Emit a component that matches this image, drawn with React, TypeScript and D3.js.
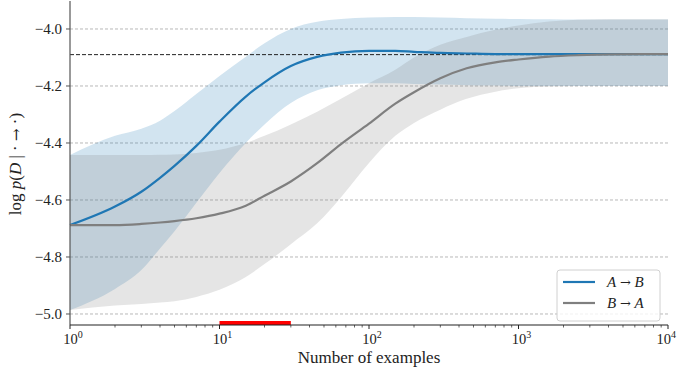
import * as d3 from "d3";

// sample sizes (log axis)
const xs = [1, 2, 3, 4, 5, 7, 10, 15, 20, 30, 45, 65, 100, 150, 200, 300, 450, 700, 1000, 1600, 2500, 4000, 10000];

// A -> B
const abMean = [-4.688, -4.623, -4.571, -4.522, -4.48, -4.41, -4.325, -4.237, -4.187, -4.13, -4.098, -4.083, -4.077, -4.077, -4.08, -4.084, -4.086, -4.088, -4.088, -4.088, -4.088, -4.088, -4.088];
const abUpper = [-4.442, -4.375, -4.35, -4.322, -4.288, -4.228, -4.165, -4.097, -4.05, -4.0, -3.975, -3.965, -3.96, -3.958, -3.958, -3.96, -3.962, -3.964, -3.965, -3.966, -3.967, -3.967, -3.967];
const abLower = [-4.986, -4.912, -4.846, -4.77, -4.71, -4.61, -4.505, -4.4, -4.335, -4.26, -4.215, -4.197, -4.19, -4.19, -4.193, -4.195, -4.197, -4.198, -4.2, -4.2, -4.2, -4.2, -4.2];

// B -> A
const baMean = [-4.688, -4.688, -4.684, -4.679, -4.674, -4.664, -4.648, -4.62, -4.585, -4.535, -4.471, -4.404, -4.332, -4.262, -4.222, -4.173, -4.138, -4.117, -4.107, -4.097, -4.092, -4.089, -4.088];
const baUpper = [-4.442, -4.442, -4.442, -4.441, -4.44, -4.435, -4.424, -4.4, -4.375, -4.335, -4.29, -4.245, -4.19, -4.143, -4.1, -4.055, -4.028, -4.003, -3.988, -3.974, -3.968, -3.966, -3.966];
const baLower = [-4.986, -4.97, -4.965, -4.96, -4.955, -4.94, -4.915, -4.87, -4.825, -4.755, -4.682, -4.59, -4.47, -4.375, -4.33, -4.283, -4.245, -4.22, -4.208, -4.202, -4.2, -4.2, -4.2];

const refLevel = -4.09;
const redRange = [10, 30];
const yTicks = [-5.0, -4.8, -4.6, -4.4, -4.2, -4.0];
const xTicks = [1, 10, 100, 1000, 10000];

const W = 677;
const H = 369;
const left = 70;
const right = 668;
const top = 1;
const bottom = 325;

const BLUE = "#1f77b4";
const GRAY = "#7f7f7f";
const FONT = "'Liberation Serif', 'DejaVu Serif', serif";
const ARROW = "'DejaVu Serif', serif";

export default function App() {
  const x = d3.scaleLog().domain([1, 10000]).range([left, right]);
  const y = d3.scaleLinear().domain([-5.0386, -3.9018]).range([bottom, top]);

  const band = (lo: number[], hi: number[]) =>
    d3
      .area<number>()
      .x((d) => x(d))
      .y0((_, i) => y(lo[i]))
      .y1((_, i) => y(hi[i]))
      .curve(d3.curveMonotoneX)(xs) || "";
  const line = (vals: number[]) =>
    d3
      .line<number>()
      .x((d) => x(d))
      .y((_, i) => y(vals[i]))
      .curve(d3.curveMonotoneX)(xs) || "";

  const minor: number[] = [];
  for (let e = 0; e < 4; e++) {
    for (let m = 2; m <= 9; m++) minor.push(m * Math.pow(10, e));
  }

  return (
    <svg
      width={W}
      height={H}
      style={{ position: "absolute", left: 0, top: 0, background: "#fff" }}
      fontFamily={FONT}
    >
      {/* grid */}
      {yTicks.map((t) => (
        <line
          key={t}
          x1={left}
          x2={right}
          y1={y(t)}
          y2={y(t)}
          stroke="#b0b0b0"
          strokeWidth={0.9}
          strokeDasharray="3,2"
        />
      ))}

      {/* bands */}
      <path d={band(abLower, abUpper)} fill={BLUE} fillOpacity={0.2} />
      <path d={band(baLower, baUpper)} fill={GRAY} fillOpacity={0.2} />

      {/* reference level */}
      <line
        x1={left}
        x2={right}
        y1={y(refLevel)}
        y2={y(refLevel)}
        stroke="#222"
        strokeWidth={1}
        strokeDasharray="4,2"
      />

      {/* lines */}
      <path d={line(abMean)} fill="none" stroke={BLUE} strokeWidth={2.2} />
      <path d={line(baMean)} fill="none" stroke={GRAY} strokeWidth={2.2} />

      {/* red marker */}
      <rect
        x={x(redRange[0])}
        width={x(redRange[1]) - x(redRange[0])}
        y={bottom - 4}
        height={4}
        fill="#ff0000"
      />

      {/* axes */}
      <line x1={left} x2={left} y1={top} y2={bottom} stroke="#555" strokeWidth={1.2} />
      <line x1={left} x2={right} y1={bottom} y2={bottom} stroke="#222" strokeWidth={1.2} />

      {yTicks.map((t) => (
        <g key={t}>
          <line x1={left - 4} x2={left} y1={y(t)} y2={y(t)} stroke="#555" strokeWidth={1} />
          <text x={left - 8} y={y(t)} dy="0.35em" textAnchor="end" fontSize={15} fill="#222">
            {"\u2212" + Math.abs(t).toFixed(1)}
          </text>
        </g>
      ))}

      {minor.map((t) => (
        <line key={t} x1={x(t)} x2={x(t)} y1={bottom} y2={bottom + 2.5} stroke="#222" strokeWidth={0.7} />
      ))}
      {xTicks.map((t, i) => {
        const last = i === xTicks.length - 1;
        return (
          <g key={t}>
            <line x1={x(t)} x2={x(t)} y1={bottom} y2={bottom + 4} stroke="#222" strokeWidth={1} />
            <text
              x={last ? W - 1 : x(t) + 3}
              y={344}
              textAnchor={last ? "end" : "middle"}
              fontSize={14.5}
              fill="#222"
            >
              10
              <tspan fontSize={10} dy={-6}>
                {i}
              </tspan>
            </text>
          </g>
        );
      })}

      <text x={369} y={363} textAnchor="middle" fontSize={17} fill="#222">
        Number of examples
      </text>

      <text
        transform={`translate(21, 164) rotate(-90)`}
        textAnchor="middle"
        fontSize={17}
        fill="#222"
      >
        log <tspan fontStyle="italic">p</tspan>(<tspan fontStyle="italic">D</tspan> | ·{" "}
        <tspan fontFamily={ARROW} fontSize={15}>→</tspan> ·)
      </text>

      {/* legend */}
      <g>
        <rect
          x={557}
          y={270}
          width={103}
          height={51}
          rx={3}
          fill="#fff"
          fillOpacity={0.8}
          stroke="#d0d0d0"
          strokeWidth={1}
        />
        <line x1={563} x2={595} y1={282} y2={282} stroke={BLUE} strokeWidth={2.2} />
        <text x={607} y={282} dy="0.35em" fontSize={15} fill="#222">
          <tspan fontStyle="italic">A</tspan> <tspan fontFamily={ARROW} fontSize={13}>→</tspan>{" "}
          <tspan fontStyle="italic">B</tspan>
        </text>
        <line x1={563} x2={595} y1={303} y2={303} stroke={GRAY} strokeWidth={2.2} />
        <text x={607} y={303} dy="0.35em" fontSize={15} fill="#222">
          <tspan fontStyle="italic">B</tspan> <tspan fontFamily={ARROW} fontSize={13}>→</tspan>{" "}
          <tspan fontStyle="italic">A</tspan>
        </text>
      </g>
    </svg>
  );
}
